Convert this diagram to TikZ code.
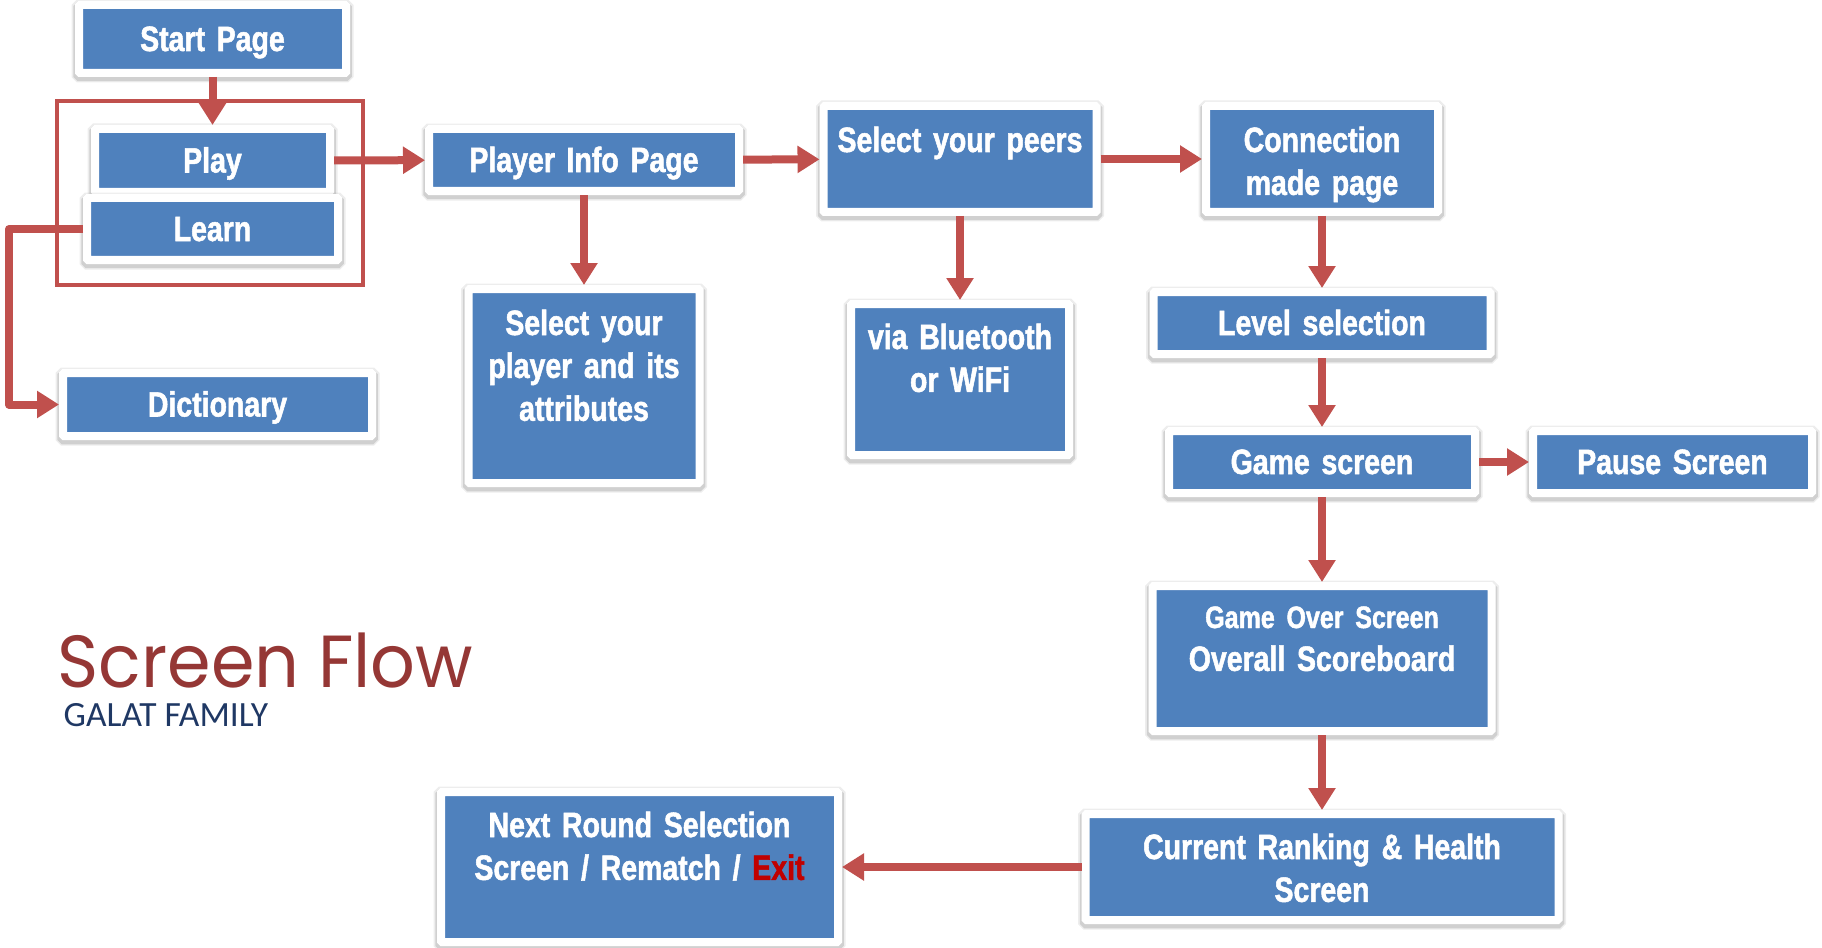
\documentclass[tikz,border=0pt]{standalone}
\usepackage{fontspec}
\setmainfont{Liberation Sans}
\newfontfamily\screenfont{Liberation Sans Bold}[FakeStretch=0.81, FakeBold=1.5]
\newfontfamily\titlefont{Poppins}[FakeStretch=0.95]
\newfontfamily\familyfont{Carlito}
\usetikzlibrary{arrows.meta,shadows}
\definecolor{screenblue}{HTML}{4F81BD}
\definecolor{flowred}{HTML}{C0504D}
\definecolor{titlered}{HTML}{953735}
\definecolor{familynavy}{HTML}{1F3864}
\definecolor{exitred}{HTML}{C00000}

\begin{document}
\begin{tikzpicture}[
	screen/.style 2 args={fill=screenblue, draw=white, line width=0.08cm, rounded corners=0.3pt,
		drop shadow={shadow xshift=0cm, shadow yshift=-0.02cm, opacity=0.07, draw=black, line width=0.15cm},
		drop shadow={shadow xshift=0cm, shadow yshift=-0.025cm, opacity=0.12, draw=black, line width=0.115cm},
		text=white, font=\screenfont\fontsize{10}{12.2}\selectfont, align=center,
		inner sep=0pt, text width=#1, minimum height=#2, text height=0.3cm, text depth=0.06cm},
	flow/.style={draw=flowred, line width=0.08cm, line join=round, -{Triangle[length=0.22cm,width=0.26cm]}}
	]
				\useasboundingbox (0,0) rectangle (18.22,-9.47);
				\draw[flowred, line width=0.04cm] (0.57,-1.01) rectangle (3.63,-2.85);

				\node[screen={2.67cm}{0.68cm}] (start) at (2.125,-0.39) {Start Page};
				\node[screen={2.35cm}{0.63cm}] (play) at (2.125,-1.605) {Play};
				\node[screen={2.51cm}{0.62cm}] (learn) at (2.125,-2.29) {Learn};
				\node[screen={3.09cm}{0.63cm}] (dict) at (2.175,-4.045) {Dictionary};
				\node[screen={3.10cm}{0.62cm}] (info) at (5.84,-1.60) {Player Info Page};
				\node[screen={2.31cm}{1.94cm}, text depth=1.32cm] (avatar) at (5.84,-3.86) {Select your\\player and its\\attributes};
				\node[screen={2.73cm}{1.06cm}, text depth=0.44cm] (peers) at (9.60,-1.59) {Select your peers};
				\node[screen={2.18cm}{1.51cm}, text depth=0.91cm] (bt) at (9.60,-3.795) {via Bluetooth\\or WiFi};
				\node[screen={2.32cm}{1.06cm}, text depth=0.44cm] (conn) at (13.22,-1.59) {Connection\\made page};
				\node[screen={3.37cm}{0.62cm}] (level) at (13.22,-3.23) {Level selection};
				\node[screen={3.06cm}{0.62cm}] (game) at (13.22,-4.62) {Game screen};
				\node[screen={2.79cm}{0.62cm}] (pause) at (16.725,-4.62) {Pause Screen};
				\node[screen={3.39cm}{1.45cm}, text depth=0.91cm] (over) at (13.22,-6.585) {{\fontsize{8.8}{12.2}\selectfont Game Over Screen}\\Overall Scoreboard};
				\node[screen={4.73cm}{1.06cm}, text depth=0.46cm] (rank) at (13.22,-8.67) {Current Ranking \& Health\\Screen};
				\node[screen={3.97cm}{1.50cm}, text depth=0.90cm] (next) at (6.395,-8.67) {Next Round Selection\\Screen / Rematch / {\color{exitred}Exit}};

				\node[anchor=base west, inner sep=0pt, text=titlered, font=\titlefont\fontsize{21}{22}\selectfont] (title) at (0.57,-6.87) {Screen Flow};
				\node[anchor=base west, inner sep=0pt, text=familynavy, font=\familyfont\fontsize{10.1}{11}\selectfont] (family) at (0.63,-7.26) {GALAT FAMILY};

				\foreach \from/\to in {start/play, play/info, info/avatar, info/peers, peers/bt, peers/conn, conn/level, level/game, game/pause, game/over, over/rank, rank/next}
				\draw[flow] (\from) -- (\to);
				\draw[flow] (learn.west) -- ++(-0.74,0) |- (dict.west);
\end{tikzpicture}
\end{document}
